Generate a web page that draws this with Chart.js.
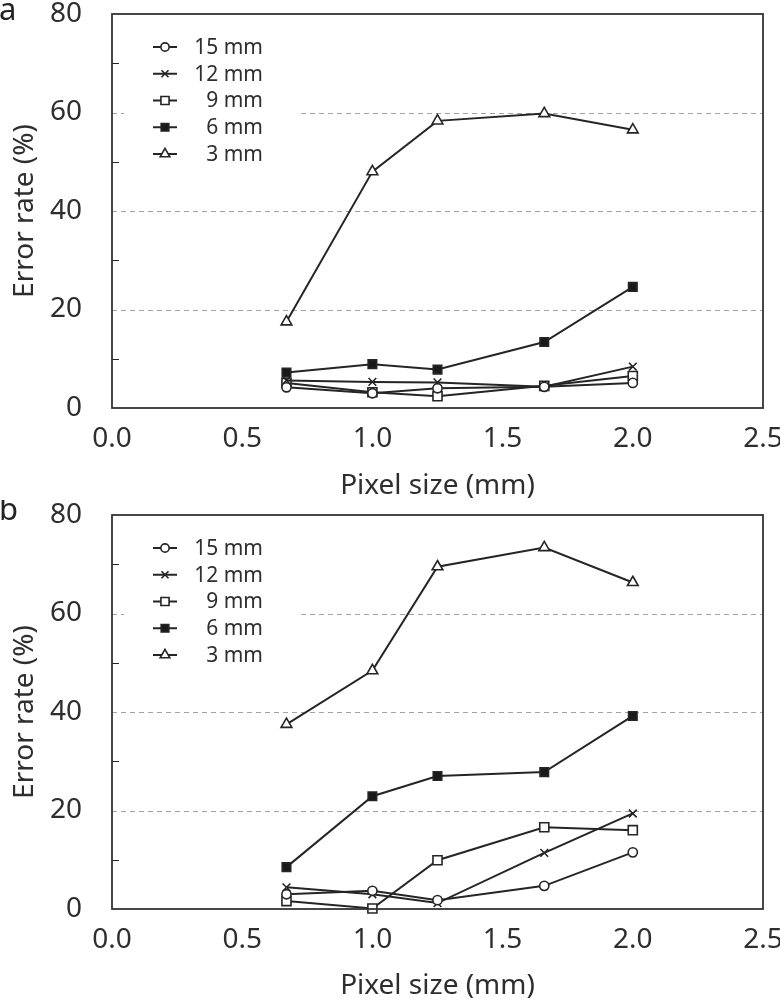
<!DOCTYPE html>
<html>
<head>
<meta charset="utf-8">
<script src="https://cdn.jsdelivr.net/npm/chart.js@4.4.0/dist/chart.umd.min.js"></script>
<style>
    html, body { margin: 0; padding: 0; background: #fff; }
    .panel { position: absolute; left: 0; width: 780px; height: 500px; }
    .panel canvas { display: block; }
</style>
</head>
<body>
<div class="panel" style="top:0"><canvas id="chartA" width="780" height="500"></canvas></div>
<div class="panel" style="top:500px"><canvas id="chartB" width="780" height="500"></canvas></div>
<script>
const pixelSizes = [0.67, 1.0, 1.25, 1.66, 2.0];
const seriesLabels = ['15 mm', '12 mm', '9 mm', '6 mm', '3 mm'];

// panel a
const a15 = [4.2, 3.0, 4.0, 4.3, 5.1];
const a12 = [5.6, 5.3, 5.2, 4.3, 8.4];
const a9 = [5.1, 3.2, 2.4, 4.5, 6.5];
const a6 = [7.2, 8.9, 7.8, 13.4, 24.6];
const a3 = [17.5, 48.0, 58.3, 59.8, 56.5];

// panel b
const b15 = [3.0, 3.7, 1.8, 4.7, 11.5];
const b12 = [4.4, 3.0, 1.2, 11.4, 19.4];
const b9 = [1.6, 0.1, 9.9, 16.6, 16.0];
const b6 = [8.5, 22.9, 27.0, 27.8, 39.2];
const b3 = [37.5, 48.4, 69.5, 73.4, 66.3];

const xTicks = [0, 0.5, 1.0, 1.5, 2.0, 2.5];
const yTicks = [0, 20, 40, 60, 80];
const yMinorTicks = [10, 30, 50, 70];
const gridValues = [20, 40, 60];

const pointStyles = ['circle', 'crossRot', 'rect', 'rect', 'triangle'];
const pointFills = ['#fff', '#fff', '#fff', '#1a1a1a', '#fff'];
const pointRadii = [4.6, 5.5, 6.4, 6.0, 6.2];

const INK = '#252525';
const TEXT = '#2e2e2e';
const FONT = "'Noto Sans', 'DejaVu Sans', sans-serif";

// legend sits inside the plot, top-left
function legendBox(ca) {
    return { left: ca.left + 12, top: ca.top + 14, width: 173, height: 140 };
}

function marker(ctx, style, r, x, y, fill) {
    ctx.fillStyle = fill;
    ctx.strokeStyle = INK;
    ctx.lineWidth = 1.6;
    if (Chart.helpers && Chart.helpers.drawPoint) {
        Chart.helpers.drawPoint(ctx, { pointStyle: style, rotation: 0, radius: r, borderWidth: 1.6 }, x, y);
        return;
    }
    ctx.beginPath();
    ctx.arc(x, y, r, 0, Math.PI * 2);
    ctx.fill();
    ctx.stroke();
}

const panelDecor = {
    id: 'panelDecor',
    beforeDatasetsDraw(chart) {
        const { ctx, chartArea: ca, scales: { y } } = chart;
        const lg = legendBox(ca);

        // dashed grid, kept out of the legend area
        ctx.save();
        ctx.beginPath();
        ctx.rect(ca.left, ca.top, ca.width, ca.height);
        ctx.rect(lg.left, lg.top, lg.width, lg.height);
        ctx.clip('evenodd');
        ctx.strokeStyle = '#a3a3a3';
        ctx.lineWidth = 1;
        ctx.setLineDash([5, 4]);
        gridValues.forEach(v => {
            const py = Math.round(y.getPixelForValue(v)) + 0.5;
            ctx.beginPath();
            ctx.moveTo(ca.left, py);
            ctx.lineTo(ca.right, py);
            ctx.stroke();
        });
        ctx.restore();

        // small inward ticks between the labels
        ctx.save();
        ctx.strokeStyle = INK;
        ctx.lineWidth = 1;
        yMinorTicks.forEach(v => {
            const py = Math.round(y.getPixelForValue(v)) + 0.5;
            ctx.beginPath();
            ctx.moveTo(ca.left, py);
            ctx.lineTo(ca.left + 7, py);
            ctx.stroke();
        });
        ctx.restore();
    },
    afterDatasetsDraw(chart, args, opts) {
        const { ctx, chartArea: ca } = chart;

        ctx.save();
        ctx.strokeStyle = '#333';
        ctx.lineWidth = 1.8;
        ctx.strokeRect(ca.left, ca.top, ca.width, ca.height);

        // legend
        ctx.font = '21px ' + FONT;
        ctx.textAlign = 'right';
        ctx.textBaseline = 'middle';
        chart.data.datasets.forEach((ds, i) => {
            const ly = ca.top + 33 + i * 26.75;
            ctx.strokeStyle = INK;
            ctx.lineWidth = 2;
            ctx.beginPath();
            ctx.moveTo(ca.left + 41, ly);
            ctx.lineTo(ca.left + 65, ly);
            ctx.stroke();
            marker(ctx, pointStyles[i], pointRadii[i] * 0.9, ca.left + 53, ly, pointFills[i]);
            ctx.fillStyle = TEXT;
            ctx.fillText(ds.label, ca.left + 151, ly + 1);
        });

        // panel letter
        ctx.font = '31px ' + FONT;
        ctx.textAlign = 'left';
        ctx.textBaseline = 'alphabetic';
        ctx.fillStyle = '#222';
        ctx.fillText(opts.letter, -1, 20);
        ctx.restore();
    }
};

function makeChart(canvasId, letter, series, topPad, xAxisHeight) {
    const datasets = seriesLabels.map((label, i) => ({
        label: label,
        data: pixelSizes.map((x, j) => ({ x: x, y: series[i][j] })),
        borderColor: INK,
        borderWidth: 2,
        tension: 0,
        pointStyle: pointStyles[i],
        pointRadius: pointRadii[i],
        pointBackgroundColor: pointFills[i],
        pointBorderColor: INK,
        pointBorderWidth: 1.6,
        clip: false
    }));

    return new Chart(document.getElementById(canvasId), {
        type: 'line',
        data: { datasets: datasets },
        options: {
            responsive: false,
            animation: false,
            devicePixelRatio: 1,
            layout: { padding: { top: topPad, right: 17, left: 0, bottom: 0 } },
            plugins: {
                legend: { display: false },
                tooltip: { enabled: false },
                panelDecor: { letter: letter }
            },
            scales: {
                x: {
                    type: 'linear',
                    min: 0,
                    max: 2.5,
                    afterBuildTicks: axis => { axis.ticks = xTicks.map(v => ({ value: v })); },
                    ticks: {
                        callback: v => v.toFixed(1),
                        font: { family: FONT, size: 28 },
                        color: TEXT,
                        padding: 14,
                        maxRotation: 0,
                        autoSkip: false
                    },
                    grid: { display: false, drawTicks: false, tickLength: 0 },
                    border: { display: false },
                    title: {
                        display: true,
                        text: 'Pixel size (mm)',
                        font: { family: FONT, size: 28, lineHeight: 1 },
                        color: TEXT,
                        padding: { top: 0, bottom: 0 }
                    },
                    afterFit: axis => {
                        axis.height = xAxisHeight;
                        axis.paddingLeft = 0;
                        axis.paddingRight = 0;
                    }
                },
                y: {
                    min: 0,
                    max: 80,
                    afterBuildTicks: axis => { axis.ticks = yTicks.map(v => ({ value: v })); },
                    ticks: {
                        font: { family: FONT, size: 28 },
                        color: TEXT,
                        padding: 30
                    },
                    grid: { display: false, drawTicks: false, tickLength: 0 },
                    border: { display: false },
                    title: {
                        display: true,
                        text: 'Error rate (%)',
                        font: { family: FONT, size: 28, lineHeight: 1 },
                        color: TEXT,
                        padding: { top: 11, bottom: 0 }
                    },
                    afterFit: axis => {
                        axis.width = 112;
                        axis.paddingTop = 0;
                        axis.paddingBottom = 0;
                    }
                }
            }
        },
        plugins: [panelDecor]
    });
}

makeChart('chartA', 'a', [a15, a12, a9, a6, a3], 14, 92);
makeChart('chartB', 'b', [b15, b12, b9, b6, b3], 15, 91);
</script>
</body>
</html>
